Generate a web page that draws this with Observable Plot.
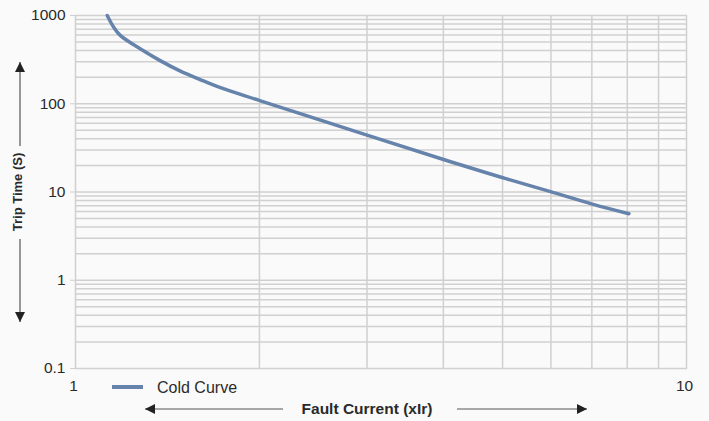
<!DOCTYPE html>
<html><head><meta charset="utf-8">
<script src="https://cdn.jsdelivr.net/npm/d3@7"></script>
<script src="https://cdn.jsdelivr.net/npm/@observablehq/plot@0.6"></script>
<style>
html,body{margin:0;padding:0;background:#fafafa;}
#chart svg{display:block;}
</style></head><body><div id="chart"></div>
<script>
// Data
const faultCurrent = [1.127, 1.155, 1.185, 1.278, 1.378, 1.485, 1.602, 1.727, 2.008, 3.0, 4.11, 4.99, 5.99, 7.01, 8.05];
const tripTime     = [1000,  735,   591,   417,   306,   234,   187,   152,   108,   44.1, 22.0, 14.6, 10.1, 7.3,  5.68];
const seriesName = "Cold Curve";
const yTickValues = [0.1, 1, 10, 100, 1000];
const yTickLabels = ["0.1", "1", "10", "100", "1000"];
const xTickValues = [1, 10];
const xTickLabels = ["1", "10"];
const xGridValues = [2, 3, 4, 5, 6, 7, 8, 9];
const yGridValues = [0.2,0.3,0.4,0.5,0.6,0.7,0.8,0.9, 1, 2,3,4,5,6,7,8,9, 10, 20,30,40,50,60,70,80,90, 100, 200,300,400,500,600,700,800,900];
const xTitle = "Fault Current (xIr)";
const yTitle = "Trip Time (S)";

const rows = faultCurrent.map((x, i) => ({x, y: tripTime[i], series: seriesName}));

const W = 709, H = 421;
const grid = "#d0d0d0";
const lineColor = "#6683ab";
const textColor = "#2a2a2a";

const chart = Plot.plot({
  width: W, height: H,
  marginLeft: 75, marginRight: 23, marginTop: 15, marginBottom: 53,
  style: {background: "#fafafa", fontFamily: "'Liberation Sans', Arial, sans-serif", color: textColor},
  x: {type: "log", domain: [1, 10]},
  y: {type: "log", domain: [0.1, 1000]},
  marks: [
    Plot.ruleY(yGridValues, {stroke: grid, strokeWidth: 1.5}),
    Plot.ruleX(xGridValues, {stroke: grid, strokeWidth: 1.5}),
    Plot.frame({stroke: grid, strokeWidth: 1.5}),
    Plot.line(rows, {x: "x", y: "y", stroke: lineColor, strokeWidth: 3.5, curve: "catmull-rom"}),
    Plot.axisY({ticks: yTickValues, tickFormat: (d) => yTickLabels[yTickValues.indexOf(d)], tickSize: 5, tickPadding: 5, stroke: grid, fontSize: 15.5, label: null, fill: textColor}),
    Plot.axisX({ticks: xTickValues, tickFormat: (d) => xTickLabels[xTickValues.indexOf(d)], tickSize: 0, tickPadding: 11, fontSize: 15.5, label: null, fill: textColor, dx: -2})
  ]
});

document.getElementById("chart").appendChild(chart);

// Decorations: axis titles with arrows and legend
const svg = d3.select(chart);
const defs = svg.append("defs");
defs.append("marker").attr("id", "ah").attr("viewBox", "0 0 10 10")
  .attr("refX", 10).attr("refY", 5).attr("markerWidth", 10).attr("markerHeight", 10)
  .attr("markerUnits", "userSpaceOnUse").attr("orient", "auto")
  .append("path").attr("d", "M0,0 L10,5 L0,10 z").attr("fill", "#222");

const deco = svg.append("g").attr("text-anchor", "start");
// y title
deco.append("text").attr("transform", "translate(22,192) rotate(-90)")
  .attr("text-anchor", "middle").attr("font-weight", "bold").attr("font-size", 13)
  .attr("fill", textColor).text(yTitle);
deco.append("line").attr("x1", 20).attr("x2", 20).attr("y1", 146).attr("y2", 62)
  .attr("stroke", "#333").attr("stroke-width", 1).attr("marker-end", "url(#ah)");
deco.append("line").attr("x1", 20).attr("x2", 20).attr("y1", 239).attr("y2", 322)
  .attr("stroke", "#333").attr("stroke-width", 1).attr("marker-end", "url(#ah)");
// x title
deco.append("text").attr("x", 367).attr("y", 414)
  .attr("text-anchor", "middle").attr("font-weight", "bold").attr("font-size", 15.5)
  .attr("fill", textColor).text(xTitle);
deco.append("line").attr("x1", 283).attr("x2", 145).attr("y1", 409).attr("y2", 409)
  .attr("stroke", "#555").attr("stroke-width", 1).attr("marker-end", "url(#ah)");
deco.append("line").attr("x1", 457).attr("x2", 587).attr("y1", 409).attr("y2", 409)
  .attr("stroke", "#555").attr("stroke-width", 1).attr("marker-end", "url(#ah)");
// legend
deco.append("line").attr("x1", 112).attr("x2", 143).attr("y1", 387).attr("y2", 387)
  .attr("stroke", lineColor).attr("stroke-width", 4);
deco.append("text").attr("x", 157).attr("y", 392.5).attr("font-size", 16)
  .attr("text-anchor", "start").attr("fill", textColor).text(seriesName);
</script>
</body></html>
